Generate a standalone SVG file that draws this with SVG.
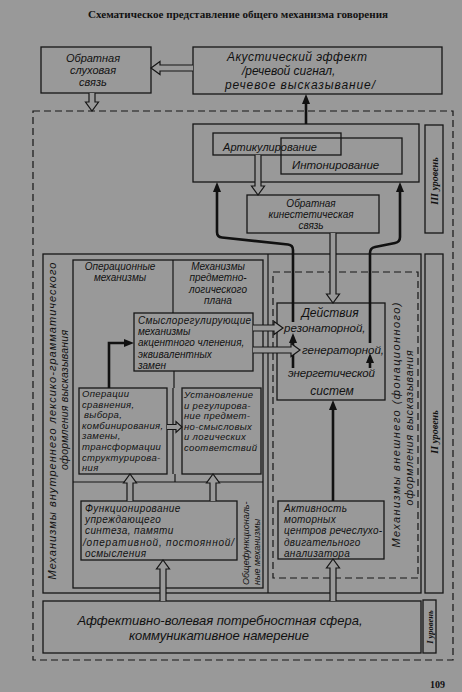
<svg xmlns="http://www.w3.org/2000/svg" width="462" height="692" viewBox="0 0 462 692">
<style>
.bg{fill:#999999}
.box{fill:none;stroke:#161616;stroke-width:1.3}
.dash{fill:none;stroke:#161616;stroke-width:1.2;stroke-dasharray:7 4}
.ln{fill:none;stroke:#161616;stroke-width:1.2}
.thick{fill:none;stroke:#111;stroke-width:2.6}
.hol{fill:#999999;stroke:#161616;stroke-width:1.2;stroke-linejoin:miter}
.t{font-family:"Liberation Sans","DejaVu Sans",sans-serif;font-style:italic;fill:#111;font-size:10px}
.s95{font-size:9.5px;letter-spacing:0.35px}
.s105{font-size:10.5px}
.s11{font-size:11px}
.s115{font-size:11.5px}
.s12{font-size:12px}
.s13{font-size:13px}
.s9{font-size:9px}
.m{text-anchor:middle}
.lv{font-family:"Liberation Serif","DejaVu Serif",serif;font-style:italic;font-weight:bold;fill:#111;font-size:10px;text-anchor:middle}
.title{font-family:"Liberation Serif","DejaVu Serif",serif;font-weight:bold;fill:#111;font-size:11px}
</style>
<defs>
<marker id="ah" viewBox="0 0 10 8" refX="3" refY="4" markerWidth="10" markerHeight="8" markerUnits="userSpaceOnUse" orient="auto">
<path d="M0,0 L10,4 L0,8 Z" fill="#111"/>
</marker>
</defs>
<rect class="bg" x="0" y="0" width="462" height="692"/>
<text class="title" x="88" y="18" textLength="300" lengthAdjust="spacingAndGlyphs">Схематическое представление общего механизма говорения</text>

<g id="outer-dashed"><rect class="dash" x="33" y="111" width="420" height="549"/></g>

<g id="hearing-feedback">
<rect class="box" x="41" y="47" width="110" height="46"/>
<text class="t s11 m" x="93" y="61.5">Обратная</text>
<text class="t s11 m" x="93" y="73.9">слуховая</text>
<text class="t s11 m" x="93" y="86.3">связь</text>
</g>

<g id="acoustic-effect">
<rect class="box" x="193" y="47" width="249" height="47"/>
<text class="t s12" x="227" y="61" textLength="140" lengthAdjust="spacing">Акустический  эффект</text>
<text class="t s12" x="242" y="75">/речевой сигнал,</text>
<text class="t s12" x="225" y="89" textLength="150" lengthAdjust="spacing">речевое высказывание/</text>
</g>

<g id="level3-group">
<rect class="box" x="193" y="124" width="226" height="58"/>
</g>
<g id="articulation">
<rect class="box" x="213" y="133" width="128" height="22"/>
<text class="t s11 m" x="270" y="150.5">Артикулирование</text>
</g>
<g id="intonation">
<rect class="box" x="281" y="138" width="121" height="36"/>
<text class="t s115" x="292" y="169">Интонирование</text>
</g>
<g id="kinesthetic-feedback">
<rect class="box" x="247" y="195" width="132" height="38"/>
<text class="t m" x="311" y="206.5">Обратная</text>
<text class="t m" x="311" y="217.8">кинестетическая</text>
<text class="t m" x="311" y="229.1">связь</text>
</g>

<g id="level-labels">
<rect class="box" x="425" y="125" width="18" height="108"/>
<text class="lv" transform="translate(438,181) rotate(-90)">III уровень</text>
<rect class="box" x="425" y="254" width="18" height="339"/>
<text class="lv" transform="translate(438,432) rotate(-90)">II уровень</text>
<rect class="box" x="423" y="600" width="13" height="53"/>
<text class="lv" style="font-size:8.5px" transform="translate(432.5,627) rotate(-90)">I уровень</text>
</g>

<g id="level2-frame">
<rect class="box" x="43" y="254" width="378" height="339"/>
<line class="ln" x1="268" y1="254" x2="268" y2="593"/>
<text class="t s11" text-anchor="middle" transform="translate(55.5,421) rotate(-90)" textLength="317" lengthAdjust="spacing">Механизмы внутреннего лексико-грамматического</text>
<text class="t s105" text-anchor="middle" transform="translate(68,400) rotate(-90)" textLength="140" lengthAdjust="spacing">оформления высказывания</text>
</g>

<g id="inner-lexico">
<rect class="box" x="73" y="260" width="190" height="328"/>
<line class="ln" x1="173" y1="260" x2="173" y2="313"/>
<line class="ln" x1="174" y1="371" x2="174" y2="388"/>
<line class="ln" x1="175" y1="474" x2="175" y2="482"/>
<line class="ln" x1="173" y1="388" x2="173" y2="474"/>
<line class="ln" x1="73" y1="482" x2="263" y2="482"/>
<text class="t m" x="120" y="270">Операционные</text>
<text class="t m" x="120" y="281.3">механизмы</text>
<text class="t m" x="218" y="270">Механизмы</text>
<text class="t m" x="218" y="281.3">предметно-</text>
<text class="t m" x="218" y="292.6">логического</text>
<text class="t m" x="218" y="303.9">плана</text>
<text class="t s9" transform="translate(249,585) rotate(-90)">Общефункциональ-</text>
<text class="t s9" transform="translate(259.5,585) rotate(-90)">ные механизмы</text>
</g>

<g id="meaning-regulating">
<rect class="box" x="134" y="313" width="119" height="58"/>
<text class="t" x="138" y="324" style="letter-spacing:0.35px">Смыслорегулирующие</text>
<text class="t" x="138" y="335.2">механизмы</text>
<text class="t" x="138" y="346.4">акцентного членения,</text>
<text class="t" x="138" y="357.6">эквивалентных</text>
<text class="t" x="138" y="368.8">замен</text>
</g>

<g id="operations">
<rect class="box" x="79" y="388" width="88" height="86"/>
<text class="t s95" x="82" y="397">Операции</text>
<text class="t s95" x="82" y="407.6">сравнения,</text>
<text class="t s95" x="84" y="418.2">выбора,</text>
<text class="t s95" x="82" y="428.8">комбинирования,</text>
<text class="t s95" x="82" y="439.4">замены,</text>
<text class="t s95" x="82" y="450">трансформации</text>
<text class="t s95" x="82" y="460.6">структурирова-</text>
<text class="t s95" x="82" y="471.2">ния</text>
</g>

<g id="establishing">
<rect class="box" x="182" y="388" width="79" height="86"/>
<text class="t s95" x="184" y="398">Установление</text>
<text class="t s95" x="184" y="408.6">и регулирова-</text>
<text class="t s95" x="184" y="419.2">ние предмет-</text>
<text class="t s95" x="184" y="429.8">но-смысловых</text>
<text class="t s95" x="184" y="440.4">и логических</text>
<text class="t s95" x="184" y="451">соответствий</text>
</g>

<g id="anticipatory-synthesis">
<rect class="box" x="81" y="501" width="156" height="59"/>
<text class="t" x="85" y="512" style="letter-spacing:0.4px">Функционирование</text>
<text class="t" x="85" y="523.2" style="letter-spacing:0.4px">упреждающего</text>
<text class="t" x="85" y="534.4" style="letter-spacing:0.4px">синтеза, памяти</text>
<text class="t" x="83" y="545.6" textLength="151" lengthAdjust="spacing">/оперативной, постоянной/</text>
<text class="t" x="85" y="556.8" style="letter-spacing:0.4px">осмысления</text>
</g>

<g id="external-frame">
<rect class="dash" x="273" y="272" width="145" height="306"/>
<text class="t s11" text-anchor="middle" transform="translate(399.5,425) rotate(-90)" textLength="245" lengthAdjust="spacing">Механизмы внешнего (фонационного)</text>
<text class="t s105" text-anchor="middle" transform="translate(412.5,428) rotate(-90)" textLength="155" lengthAdjust="spacing">оформления высказывания</text>
</g>

<g id="actions-systems">
<rect class="box" x="277" y="303" width="108" height="97"/>
<text class="t s12 m" x="330" y="317">Действия</text>
<text class="t s115" x="284" y="332">резонаторной,</text>
<text class="t s115" x="302" y="354">генераторной,</text>
<text class="t s115" x="288" y="377" textLength="87" lengthAdjust="spacing">энергетической</text>
<text class="t s12 m" x="332" y="395">систем</text>
</g>

<g id="motor-centers">
<rect class="box" x="278" y="501" width="106" height="58"/>
<text class="t" x="284" y="512" style="letter-spacing:0.3px">Активность</text>
<text class="t" x="284" y="523.2" style="letter-spacing:0.3px">моторных</text>
<text class="t" x="284" y="534.4" style="letter-spacing:0.2px">центров речеслухо-</text>
<text class="t" x="284" y="545.6" style="letter-spacing:0.3px">двигательного</text>
<text class="t" x="284" y="556.8" style="letter-spacing:0.3px">анализатора</text>
</g>

<g id="affective-sphere">
<rect class="box" x="43" y="601" width="378" height="52"/>
<text class="t s13 m" x="220" y="625" textLength="285" lengthAdjust="spacing">Аффективно-волевая потребностная сфера,</text>
<text class="t s13 m" x="219" y="640" textLength="180" lengthAdjust="spacing">коммуникативное намерение</text>
</g>

<g id="connectors">
<path class="thick" d="M306,124 V101" marker-end="url(#ah)"/>
<path class="thick" d="M293,322 V250 Q293,245 288,244.5 L222,237.5 Q217,237 217,232 V189" marker-end="url(#ah)"/>
<path class="thick" d="M370,343 V253 Q370,248 375,247 L395,243 Q400,242 400,237 V189" marker-end="url(#ah)"/>
<path class="thick" d="M293,368 V340" marker-end="url(#ah)"/>
<path class="thick" d="M370,368 V360" marker-end="url(#ah)"/>
<path class="thick" d="M333,501 V407" marker-end="url(#ah)"/>
<path class="thick" d="M109,388 V343 H127" marker-end="url(#ah)"/>
<path class="hol" d="M89,93 V102 H85.5 L92,111 L98.5,102 H95 V93"/>
<path class="hol" d="M193,65 H160 V61.5 L151,68 L160,74.5 V71 H193"/>
<path class="hol" d="M255,155 V186 H251.5 L258,195 L264.5,186 H261 V155"/>
<path class="hol" d="M330,233 V294 H326.5 L333,303 L339.5,294 H336 V233"/>
<path class="hol" d="M253,325 H274 V321.5 L283,328 L274,334.5 V331 H253"/>
<path class="hol" d="M253,347 H291 V343.5 L300,350 L291,356.5 V353 H253"/>
<path class="hol" d="M167,424.5 H176 V421.5 L182,427 L176,432.5 V429.5 H167"/>
<path class="hol" d="M127,501 V483 H123.5 L130,474 L136.5,483 H133 V501"/>
<path class="hol" d="M210,501 V483 H206.5 L213,474 L219.5,483 H216 V501"/>
<path class="hol" d="M160,601 V569 H156.5 L163,560 L169.5,569 H166 V601"/>
<path class="hol" d="M330,601 V568 H326.5 L333,559 L339.5,568 H336 V601"/>
</g>
<text class="title" x="430" y="688" style="font-size:10px">109</text>
</svg>
